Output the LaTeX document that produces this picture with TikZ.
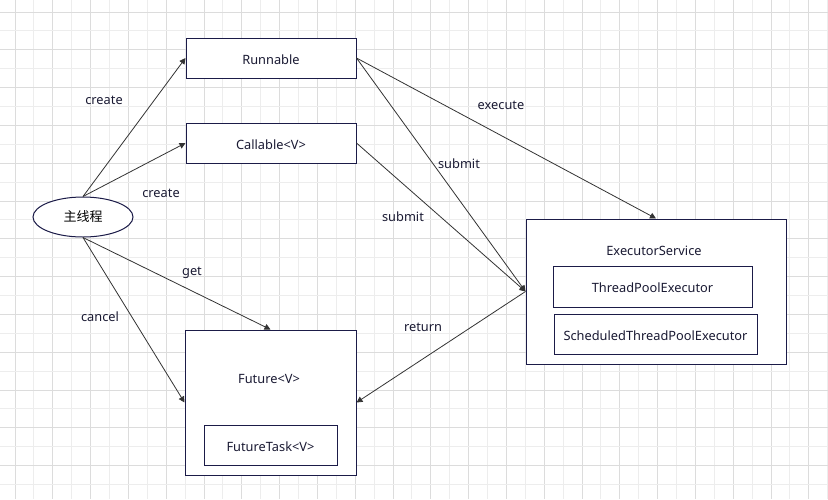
\documentclass[tikz,border=0pt]{standalone}
\usepackage{fontspec}
\setmainfont{Noto Sans}
\newfontfamily\cjk{Noto Sans CJK SC}
\usetikzlibrary{arrows.meta,shapes.geometric}
\definecolor{gridmaj}{HTML}{DCDCDC}
\definecolor{gridmin}{HTML}{EDEDED}
\definecolor{boxline}{HTML}{1B1B48}
\definecolor{txt}{HTML}{1A1A33}
\definecolor{arrline}{HTML}{333333}
\tikzset{
  box/.style={draw=boxline, line width=1pt, fill=white, rectangle, inner sep=0pt, text=txt, font=\fontsize{12.8}{15}\selectfont, text height=12pt, text depth=0pt},
  lbl/.style={inner sep=0pt, text=txt, font=\fontsize{12.8}{15}\selectfont, text height=12pt, text depth=0pt},
  arr/.style={draw=arrline, line width=0.8pt, -{Triangle[length=6pt,width=6pt]}},
}
\begin{document}
\begin{tikzpicture}[x=1pt,y=-1pt]
\useasboundingbox (0,0) rectangle (828,499);
\fill[white] (0,0) rectangle (828,499);
% grid
\foreach \k in {0,...,43}{
  \pgfmathtruncatemacro{\m}{mod(\k,2)}
  \ifnum\m=0 \draw[gridmaj, line width=1pt] ({15+18.9*\k},0) -- ({15+18.9*\k},499);
  \else \draw[gridmin, line width=1pt] ({15+18.9*\k},0) -- ({15+18.9*\k},499); \fi
}
\foreach \k in {0,...,25}{
  \pgfmathtruncatemacro{\m}{mod(\k,2)}
  \ifnum\m=0 \draw[gridmaj, line width=1pt] (0,{12+18.9*\k}) -- (828,{12+18.9*\k});
  \else \draw[gridmin, line width=1pt] (0,{12+18.9*\k}) -- (828,{12+18.9*\k}); \fi
}
% nodes
\node[box, minimum width=170pt, minimum height=40pt] (run) at (271,58) {Runnable};
\node[box, minimum width=170pt, minimum height=40pt] (call) at (271,143) {Callable<V>};
\node[draw=boxline, line width=1pt, fill=white, ellipse, minimum width=100pt, minimum height=40pt, inner sep=0pt, text=black, font=\cjk\fontsize{13}{15}\selectfont] (main) at (83,217) {主线程};
\node[box, minimum width=260pt, minimum height=145pt] (es) at (656,291.5) {};
\node[lbl] (eslbl) at (654,249) {ExecutorService};
\node[box, minimum width=199pt, minimum height=41pt] (tpe) at (652.5,286.5) {ThreadPoolExecutor};
\node[box, minimum width=203pt, minimum height=40pt] (stpe) at (655.5,334) {ScheduledThreadPoolExecutor};
\node[box, minimum width=171pt, minimum height=145pt] (fut) at (270.5,402.5) {};
\node[lbl] (futlbl) at (269,377) {Future<V>};
\node[box, minimum width=133pt, minimum height=40pt] (ft) at (270.5,445) {FutureTask<V>};
% connectors
\draw[arr] (main.north) -- (run.west);
\draw[arr] (main.north) -- (call.west);
\draw[arr] (main.south) -- (fut.north);
\draw[arr] (main.south) -- (fut.west);
\draw[arr] (run.east) -- (es.north);
\draw[arr] (run.east) -- (es.west);
\draw[arr] (call.east) -- (es.west);
\draw[arr] (es.west) -- (fut.east);
% labels
\node[lbl] (l1) at (104,98.5) {create};
\node[lbl] (l2) at (161,191.5) {create};
\node[lbl] (l3) at (192,269) {get};
\node[lbl] (l4) at (100,315.5) {cancel};
\node[lbl] (l5) at (501,103.5) {execute};
\node[lbl] (l6) at (459,162) {submit};
\node[lbl] (l7) at (403,215) {submit};
\node[lbl] (l8) at (423,325.5) {return};
\end{tikzpicture}
\end{document}
